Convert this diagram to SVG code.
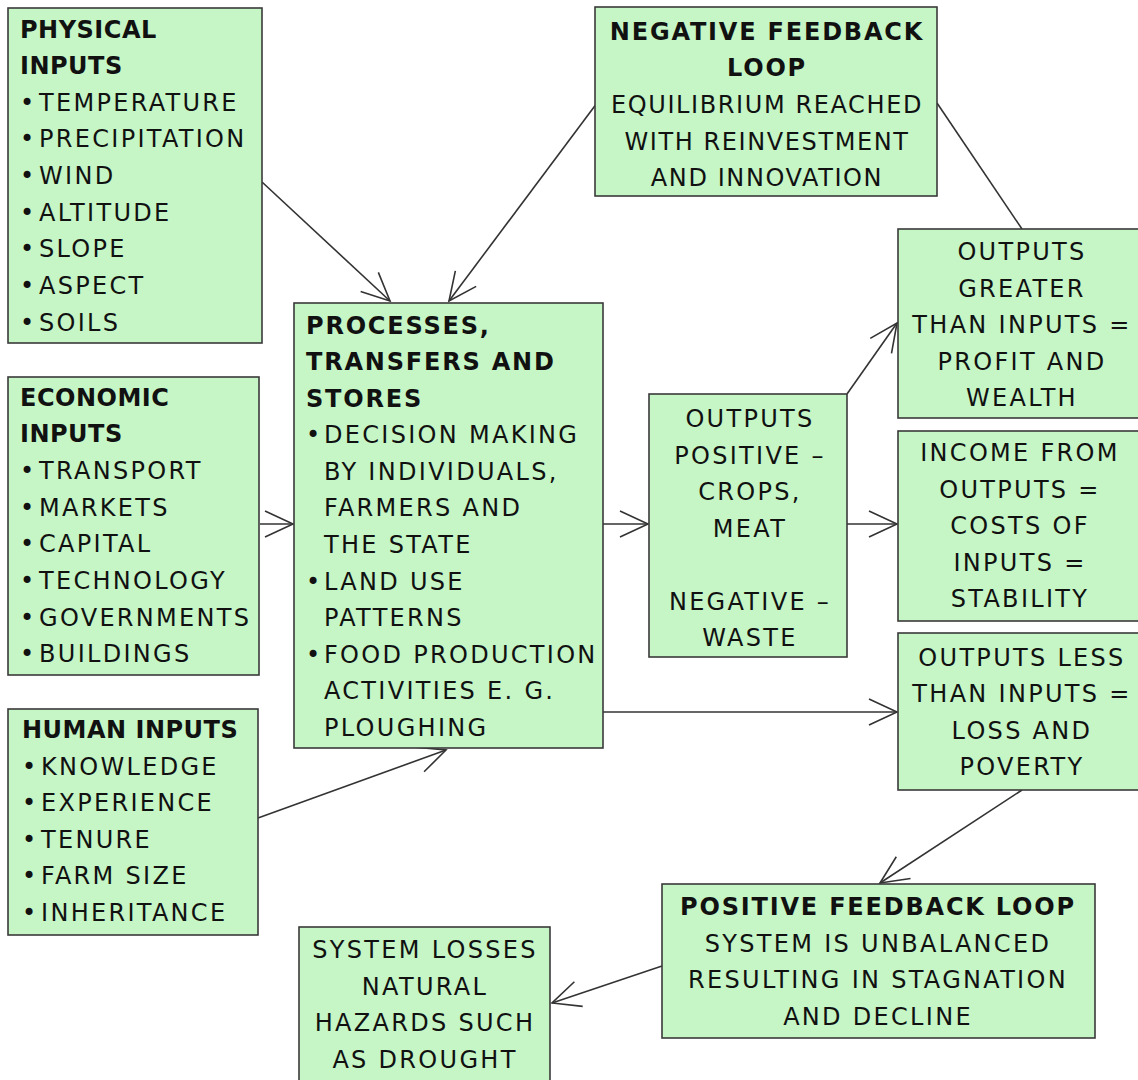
<svg xmlns="http://www.w3.org/2000/svg" width="1138" height="1080" viewBox="0 0 1138 1080">
<defs>
<style>
.box{fill:#c6f6c6;stroke:#3a3a3a;stroke-width:1.6}
text{font-family:"DejaVu Sans","Liberation Sans",sans-serif;font-size:24px;fill:#111;letter-spacing:2.3px}
.b{font-weight:bold;letter-spacing:1.8px}
.h{letter-spacing:0.5px}
.n{letter-spacing:1.6px}
.c{text-anchor:middle}
.conn line{stroke:#333;stroke-width:1.6;fill:none}
</style>
<marker id="arr" markerUnits="userSpaceOnUse" markerWidth="34" markerHeight="34" refX="30" refY="15" orient="auto" viewBox="0 0 34 30">
<path d="M2,2 L30,15 L2,28" fill="none" stroke="#333" stroke-width="1.6"/>
</marker>
</defs>
<rect width="1138" height="1080" fill="#fff"/>

<g class="conn" id="connectors">
<line x1="262" y1="182" x2="390" y2="301" marker-end="url(#arr)"/>
<line x1="597" y1="103" x2="449" y2="301" marker-end="url(#arr)"/>
<line x1="260" y1="524" x2="293" y2="524" marker-end="url(#arr)"/>
<line x1="258" y1="818" x2="446" y2="750" marker-end="url(#arr)"/>
<line x1="603" y1="524" x2="648" y2="524" marker-end="url(#arr)"/>
<line x1="847" y1="394" x2="897" y2="323" marker-end="url(#arr)"/>
<line x1="847" y1="524" x2="897" y2="524" marker-end="url(#arr)"/>
<line x1="603" y1="712" x2="897" y2="712" marker-end="url(#arr)"/>
<line x1="937" y1="103" x2="1022" y2="229"/>
<line x1="1022" y1="790" x2="880" y2="883" marker-end="url(#arr)"/>
<line x1="662" y1="966" x2="552" y2="1003" marker-end="url(#arr)"/>
</g>

<g id="physical">
<rect class="box" x="8" y="8" width="254" height="335"/>
<text class="b h" x="20" y="38">PHYSICAL</text>
<text class="b h" x="20" y="74">INPUTS</text>
<text x="20" y="111">•</text><text x="39" y="111">TEMPERATURE</text>
<text x="20" y="147">•</text><text x="39" y="147">PRECIPITATION</text>
<text x="20" y="184">•</text><text x="39" y="184">WIND</text>
<text x="20" y="221">•</text><text x="39" y="221">ALTITUDE</text>
<text x="20" y="257">•</text><text x="39" y="257">SLOPE</text>
<text x="20" y="294">•</text><text x="39" y="294">ASPECT</text>
<text x="20" y="331">•</text><text x="39" y="331">SOILS</text>
</g>

<g id="economic">
<rect class="box" x="8" y="377" width="251" height="298"/>
<text class="b h" x="20" y="406">ECONOMIC</text>
<text class="b h" x="20" y="442">INPUTS</text>
<text x="20" y="479">•</text><text x="39" y="479">TRANSPORT</text>
<text x="20" y="516">•</text><text x="39" y="516">MARKETS</text>
<text x="20" y="552">•</text><text x="39" y="552">CAPITAL</text>
<text x="20" y="589">•</text><text x="39" y="589">TECHNOLOGY</text>
<text x="20" y="626">•</text><text x="39" y="626">GOVERNMENTS</text>
<text x="20" y="662">•</text><text x="39" y="662">BUILDINGS</text>
</g>

<g id="human">
<rect class="box" x="8" y="709" width="250" height="226"/>
<text class="b h" x="22" y="738">HUMAN INPUTS</text>
<text x="22" y="775">•</text><text x="41" y="775">KNOWLEDGE</text>
<text x="22" y="811">•</text><text x="41" y="811">EXPERIENCE</text>
<text x="22" y="848">•</text><text x="41" y="848">TENURE</text>
<text x="22" y="884">•</text><text x="41" y="884">FARM SIZE</text>
<text x="22" y="921">•</text><text x="41" y="921">INHERITANCE</text>
</g>

<g id="processes">
<rect class="box" x="294" y="303" width="309" height="445"/>
<text class="b" x="306" y="334">PROCESSES,</text>
<text class="b" x="306" y="370">TRANSFERS AND</text>
<text class="b" x="306" y="407">STORES</text>
<text x="306" y="443">•</text><text x="324" y="443">DECISION MAKING</text>
<text x="324" y="480">BY INDIVIDUALS,</text>
<text x="324" y="516">FARMERS AND</text>
<text x="324" y="553">THE STATE</text>
<text x="306" y="590">•</text><text x="324" y="590">LAND USE</text>
<text x="324" y="626">PATTERNS</text>
<text x="306" y="663">•</text><text x="324" y="663">FOOD PRODUCTION</text>
<text x="324" y="699">ACTIVITIES E. G.</text>
<text x="324" y="736">PLOUGHING</text>
</g>

<g id="negative-feedback">
<rect class="box" x="595" y="7" width="342" height="189"/>
<text class="b c" x="767" y="40">NEGATIVE FEEDBACK</text>
<text class="b c" x="767" y="76">LOOP</text>
<text class="c n" x="767" y="113">EQUILIBRIUM REACHED</text>
<text class="c n" x="767" y="150">WITH REINVESTMENT</text>
<text class="c n" x="767" y="186">AND INNOVATION</text>
</g>

<g id="outputs-greater">
<rect class="box" x="898" y="229" width="245" height="189"/>
<text class="c" x="1022" y="260">OUTPUTS</text>
<text class="c" x="1022" y="297">GREATER</text>
<text class="c" x="1022" y="333">THAN INPUTS =</text>
<text class="c" x="1022" y="370">PROFIT AND</text>
<text class="c" x="1022" y="406">WEALTH</text>
</g>

<g id="outputs-positive">
<rect class="box" x="649" y="394" width="198" height="263"/>
<text class="c" x="750" y="427">OUTPUTS</text>
<text class="c" x="750" y="464">POSITIVE –</text>
<text class="c" x="750" y="500">CROPS,</text>
<text class="c" x="750" y="537">MEAT</text>
<text class="c" x="750" y="610">NEGATIVE –</text>
<text class="c" x="750" y="646">WASTE</text>
</g>

<g id="income">
<rect class="box" x="898" y="431" width="245" height="190"/>
<text class="c" x="1020" y="461">INCOME FROM</text>
<text class="c" x="1020" y="498">OUTPUTS =</text>
<text class="c" x="1020" y="534">COSTS OF</text>
<text class="c" x="1020" y="571">INPUTS =</text>
<text class="c" x="1020" y="607">STABILITY</text>
</g>

<g id="outputs-less">
<rect class="box" x="898" y="633" width="245" height="157"/>
<text class="c" x="1022" y="666">OUTPUTS LESS</text>
<text class="c" x="1022" y="702">THAN INPUTS =</text>
<text class="c" x="1022" y="739">LOSS AND</text>
<text class="c" x="1022" y="775">POVERTY</text>
</g>

<g id="positive-feedback">
<rect class="box" x="662" y="884" width="433" height="154"/>
<text class="b c" x="878" y="915">POSITIVE FEEDBACK LOOP</text>
<text class="c" x="878" y="952">SYSTEM IS UNBALANCED</text>
<text class="c" x="878" y="988">RESULTING IN STAGNATION</text>
<text class="c" x="878" y="1025">AND DECLINE</text>
</g>

<g id="system-losses">
<rect class="box" x="299" y="927" width="251" height="170"/>
<text class="c" x="425" y="958">SYSTEM LOSSES</text>
<text class="c" x="425" y="995">NATURAL</text>
<text class="c" x="425" y="1031">HAZARDS SUCH</text>
<text class="c" x="425" y="1068">AS DROUGHT</text>
</g>
</svg>
